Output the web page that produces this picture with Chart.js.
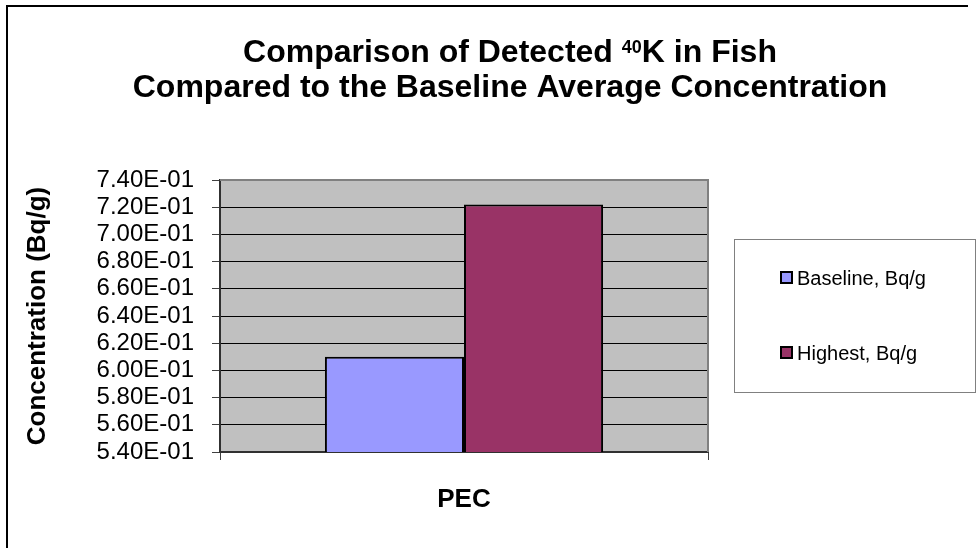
<!DOCTYPE html>
<html>
<head>
<meta charset="utf-8">
<script src="https://cdn.jsdelivr.net/npm/chart.js@4.4.1/dist/chart.umd.min.js"></script>
<style>
  html, body { margin: 0; padding: 0; background: #ffffff; }
  #wrap { width: 977px; height: 548px; }
</style>
</head>
<body>
<div id="wrap"><canvas id="c" width="977" height="548"></canvas></div>
<script>
// Data
const categories = ['PEC'];
const seriesLabels = ['Baseline, Bq/g', 'Highest, Bq/g'];
const baselineValues = [0.61];
const highestValues = [0.722];
const seriesColors = ['#9999FF', '#993366'];
const yMin = 0.54;
const yMax = 0.74;
const yStep = 0.02;

const titleLine1 = ['Comparison of Detected ', '40', 'K in Fish'];
const titleLine2 = 'Compared to the Baseline Average Concentration';
const yAxisTitle = 'Concentration (Bq/g)';

const FONT = '"Liberation Sans", Arial, sans-serif';

// 6.00E-01 style labels
function sci(v) {
  const v2 = Math.round(v * 1e6) / 1e6;
  if (v2 === 0) return '0.00E+00';
  let exp = Math.floor(Math.log10(Math.abs(v2)));
  let mant = v2 / Math.pow(10, exp);
  if (Math.round(mant * 100) / 100 >= 10) { mant /= 10; exp += 1; }
  const sign = exp < 0 ? '-' : '+';
  const e = String(Math.abs(exp)).padStart(2, '0');
  return mant.toFixed(2) + 'E' + sign + e;
}

const decor = {
  id: 'decor',
  beforeDraw(chart) {
    const { ctx, chartArea: a } = chart;
    ctx.save();
    ctx.fillStyle = '#C0C0C0';
    ctx.fillRect(a.left, a.top, a.right - a.left, a.bottom - a.top);
    ctx.restore();
  },
  afterDatasetsDraw(chart) {
    const { ctx, chartArea: a } = chart;
    ctx.save();
    // right and top frame of the plot area
    ctx.strokeStyle = '#808080';
    ctx.lineWidth = 2;
    ctx.beginPath();
    ctx.moveTo(a.left, a.top);
    ctx.lineTo(a.right, a.top);
    ctx.lineTo(a.right, a.bottom);
    ctx.stroke();
    ctx.restore();
  },
  afterDraw(chart) {
    const { ctx } = chart;
    ctx.save();
    // outer frame
    ctx.strokeStyle = '#000000';
    ctx.lineWidth = 2;
    ctx.beginPath();
    ctx.moveTo(7, 548);
    ctx.lineTo(7, 6);
    ctx.lineTo(968, 6);
    ctx.stroke();

    // title
    ctx.fillStyle = '#000000';
    ctx.textBaseline = 'alphabetic';
    ctx.textAlign = 'left';
    const big = 'bold 32px ' + FONT;
    const small = 'bold 18px ' + FONT;
    const cx = 510;
    ctx.font = big;
    const w0 = ctx.measureText(titleLine1[0]).width;
    const w2 = ctx.measureText(titleLine1[2]).width;
    ctx.font = small;
    const w1 = ctx.measureText(titleLine1[1]).width;
    let x = cx - (w0 + w1 + w2) / 2;
    const y1 = 62;
    ctx.font = big;
    ctx.fillText(titleLine1[0], x, y1); x += w0;
    ctx.font = small;
    ctx.fillText(titleLine1[1], x, y1 - 9); x += w1;
    ctx.font = big;
    ctx.fillText(titleLine1[2], x, y1);
    ctx.textAlign = 'center';
    ctx.fillText(titleLine2, cx, 97);

    // legend
    const lx = 734, ly = 239, lw = 241, lh = 153;
    ctx.strokeStyle = '#808080';
    ctx.lineWidth = 1;
    ctx.strokeRect(lx + 0.5, ly + 0.5, lw, lh);
    const rows = [278, 353];
    ctx.textAlign = 'left';
    ctx.textBaseline = 'middle';
    ctx.font = '20px ' + FONT;
    chart.data.datasets.forEach((ds, i) => {
      const yy = rows[i];
      ctx.fillStyle = ds.backgroundColor;
      ctx.fillRect(781, yy - 6, 11, 11);
      ctx.strokeStyle = '#000000';
      ctx.lineWidth = 2;
      ctx.strokeRect(781, yy - 6, 11, 11);
      ctx.fillStyle = '#000000';
      ctx.fillText(ds.label, 797, yy + 1);
    });
    ctx.restore();
  }
};

new Chart(document.getElementById('c'), {
  type: 'bar',
  data: {
    labels: categories,
    datasets: [
      { label: seriesLabels[0], data: baselineValues, backgroundColor: seriesColors[0] },
      { label: seriesLabels[1], data: highestValues, backgroundColor: seriesColors[1] }
    ]
  },
  options: {
    responsive: false,
    devicePixelRatio: 1,
    animation: false,
    events: [],
    layout: { padding: { top: 180, right: 269, bottom: 0, left: 0 } },
    datasets: {
      bar: {
        categoryPercentage: 0.57,
        barPercentage: 1.0,
        borderColor: '#000000',
        borderWidth: 2,
        borderSkipped: false
      }
    },
    plugins: {
      legend: { display: false },
      title: { display: false },
      tooltip: { enabled: false }
    },
    scales: {
      x: {
        offset: true,
        grid: { display: true, drawOnChartArea: false, tickLength: 8, tickColor: '#404040', offset: true },
        border: { display: true, color: '#303030', width: 2 },
        ticks: { color: '#000000', font: { family: FONT, size: 26, weight: 'bold' }, padding: 24 },
        afterFit(s) { s.height = 96; }
      },
      y: {
        min: yMin,
        max: yMax,
        grid: {
          color: (c) => (c.index === 10 ? 'rgba(0,0,0,0)' : '#000000'),
          lineWidth: 1,
          tickLength: 8,
          tickColor: '#404040'
        },
        border: { display: true, color: '#303030', width: 2 },
        ticks: {
          stepSize: yStep,
          autoSkip: false,
          color: '#000000',
          padding: 18,
          font: { family: FONT, size: 24, lineHeight: 1 },
          callback: (v) => sci(v)
        },
        title: {
          display: true,
          text: yAxisTitle,
          color: '#000000',
          font: { family: FONT, size: 26, weight: 'bold' },
          padding: { top: 22, bottom: 0 }
        },
        afterFit(s) { s.width = 220; }
      }
    }
  },
  plugins: [decor]
});
</script>
</body>
</html>
